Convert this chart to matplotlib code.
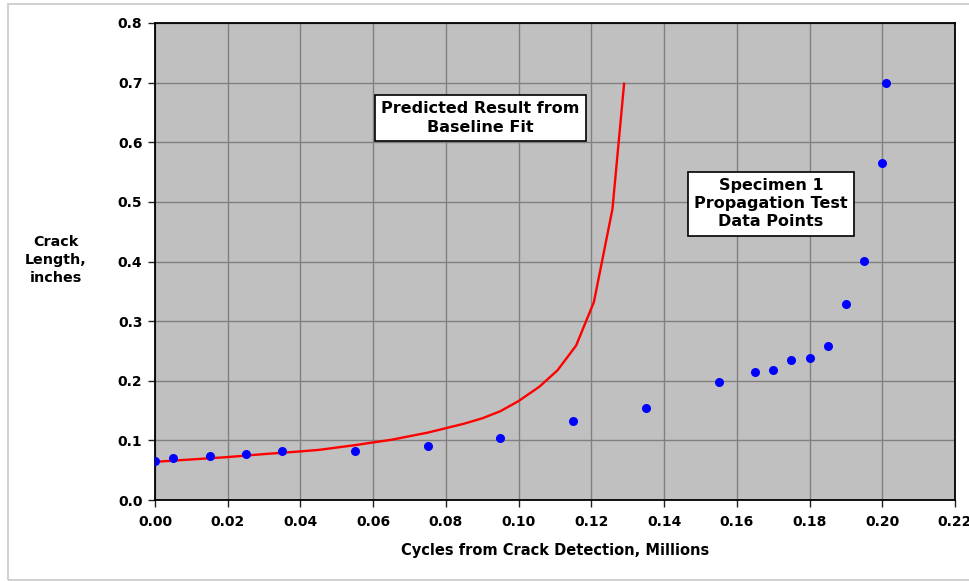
import matplotlib
matplotlib.use('Agg')
import matplotlib.pyplot as plt
from matplotlib.patches import Rectangle

plt.rcParams['font.family'] = ['DejaVu Sans']
plt.rcParams['font.weight'] = 'bold'

# test data points (cycles in millions, crack length in inches)
ciclos_teste = [0.000, 0.005, 0.015, 0.025, 0.035, 0.055, 0.075, 0.095, 0.115, 0.135,
                0.155, 0.165, 0.170, 0.175, 0.180, 0.185, 0.190, 0.195, 0.200, 0.201]
trinca_teste = [0.065, 0.071, 0.073, 0.077, 0.083, 0.083, 0.091, 0.104, 0.132, 0.155,
                0.198, 0.215, 0.218, 0.234, 0.238, 0.258, 0.328, 0.401, 0.566, 0.700]

# predicted curve from baseline fit
ciclos_pred = [0.000, 0.010, 0.020, 0.030, 0.040, 0.045, 0.050, 0.055, 0.060, 0.065, 0.070,
               0.075, 0.080, 0.085, 0.090, 0.095, 0.100, 0.1057, 0.1107, 0.1158, 0.1207,
               0.1258, 0.129]
trinca_pred = [0.064, 0.068, 0.072, 0.077, 0.0815, 0.084, 0.088, 0.092, 0.0966, 0.101, 0.107,
               0.113, 0.1205, 0.128, 0.137, 0.149, 0.166, 0.190, 0.2176, 0.259, 0.332,
               0.488, 0.698]

x_ticks = [0.00, 0.02, 0.04, 0.06, 0.08, 0.10, 0.12, 0.14, 0.16, 0.18, 0.20, 0.22]
y_ticks = [0.0, 0.1, 0.2, 0.3, 0.4, 0.5, 0.6, 0.7, 0.8]

fig = plt.figure(figsize=(9.70, 5.81), dpi=100)
ax = fig.add_axes([155/970, 81/581, 800/970, 477/581])

# light border around the whole chart
fig.patches.append(Rectangle((8/970, 1/581), 1.0, (577-1)/581, transform=fig.transFigure,
                             fill=False, edgecolor='#c8c8c8', linewidth=1.2))

ax.set_facecolor('#c0c0c0')
ax.plot(ciclos_pred, trinca_pred, color='#ff0000', linewidth=1.7, zorder=3)
ax.plot(ciclos_teste, trinca_teste, linestyle='none', marker='o', markersize=6.5,
        color='#0000ff', markeredgewidth=0, zorder=4)

ax.set_xlim(0, 0.22)
ax.set_ylim(0, 0.8)
ax.set_xticks(x_ticks)
ax.set_yticks(y_ticks)
ax.set_xticklabels([f'{v:.2f}' for v in x_ticks])
ax.set_yticklabels([f'{v:.1f}' for v in y_ticks])
ax.tick_params(axis='both', labelsize=10, length=5, width=1, color='#202020', pad=4)
ax.tick_params(axis='x', pad=6)
ax.grid(True, color='#808080', linewidth=1)
ax.set_axisbelow(True)
for lado in ax.spines.values():
    lado.set_color('black')
    lado.set_linewidth(1.3)

ax.set_xlabel('Cycles from Crack Detection, Millions', fontsize=10.5, fontweight='bold', labelpad=10)
fig.text(56/970, 1 - 260/581, 'Crack\nLength,\ninches', ha='center', va='center',
         fontsize=10.3, fontweight='bold', linespacing=1.4)

caixa = dict(boxstyle='square,pad=0.4', facecolor='white', edgecolor='black', linewidth=1.2)
ax.text(0.0894, 0.641, 'Predicted Result from\nBaseline Fit', ha='center', va='center',
        fontsize=11.5, fontweight='bold', bbox=caixa, zorder=5, linespacing=1.3)
ax.text(0.1694, 0.497, 'Specimen 1\nPropagation Test\nData Points', ha='center', va='center',
        fontsize=11.5, fontweight='bold', bbox=caixa, zorder=5, linespacing=1.25)

plt.savefig('out.png', dpi=100)
